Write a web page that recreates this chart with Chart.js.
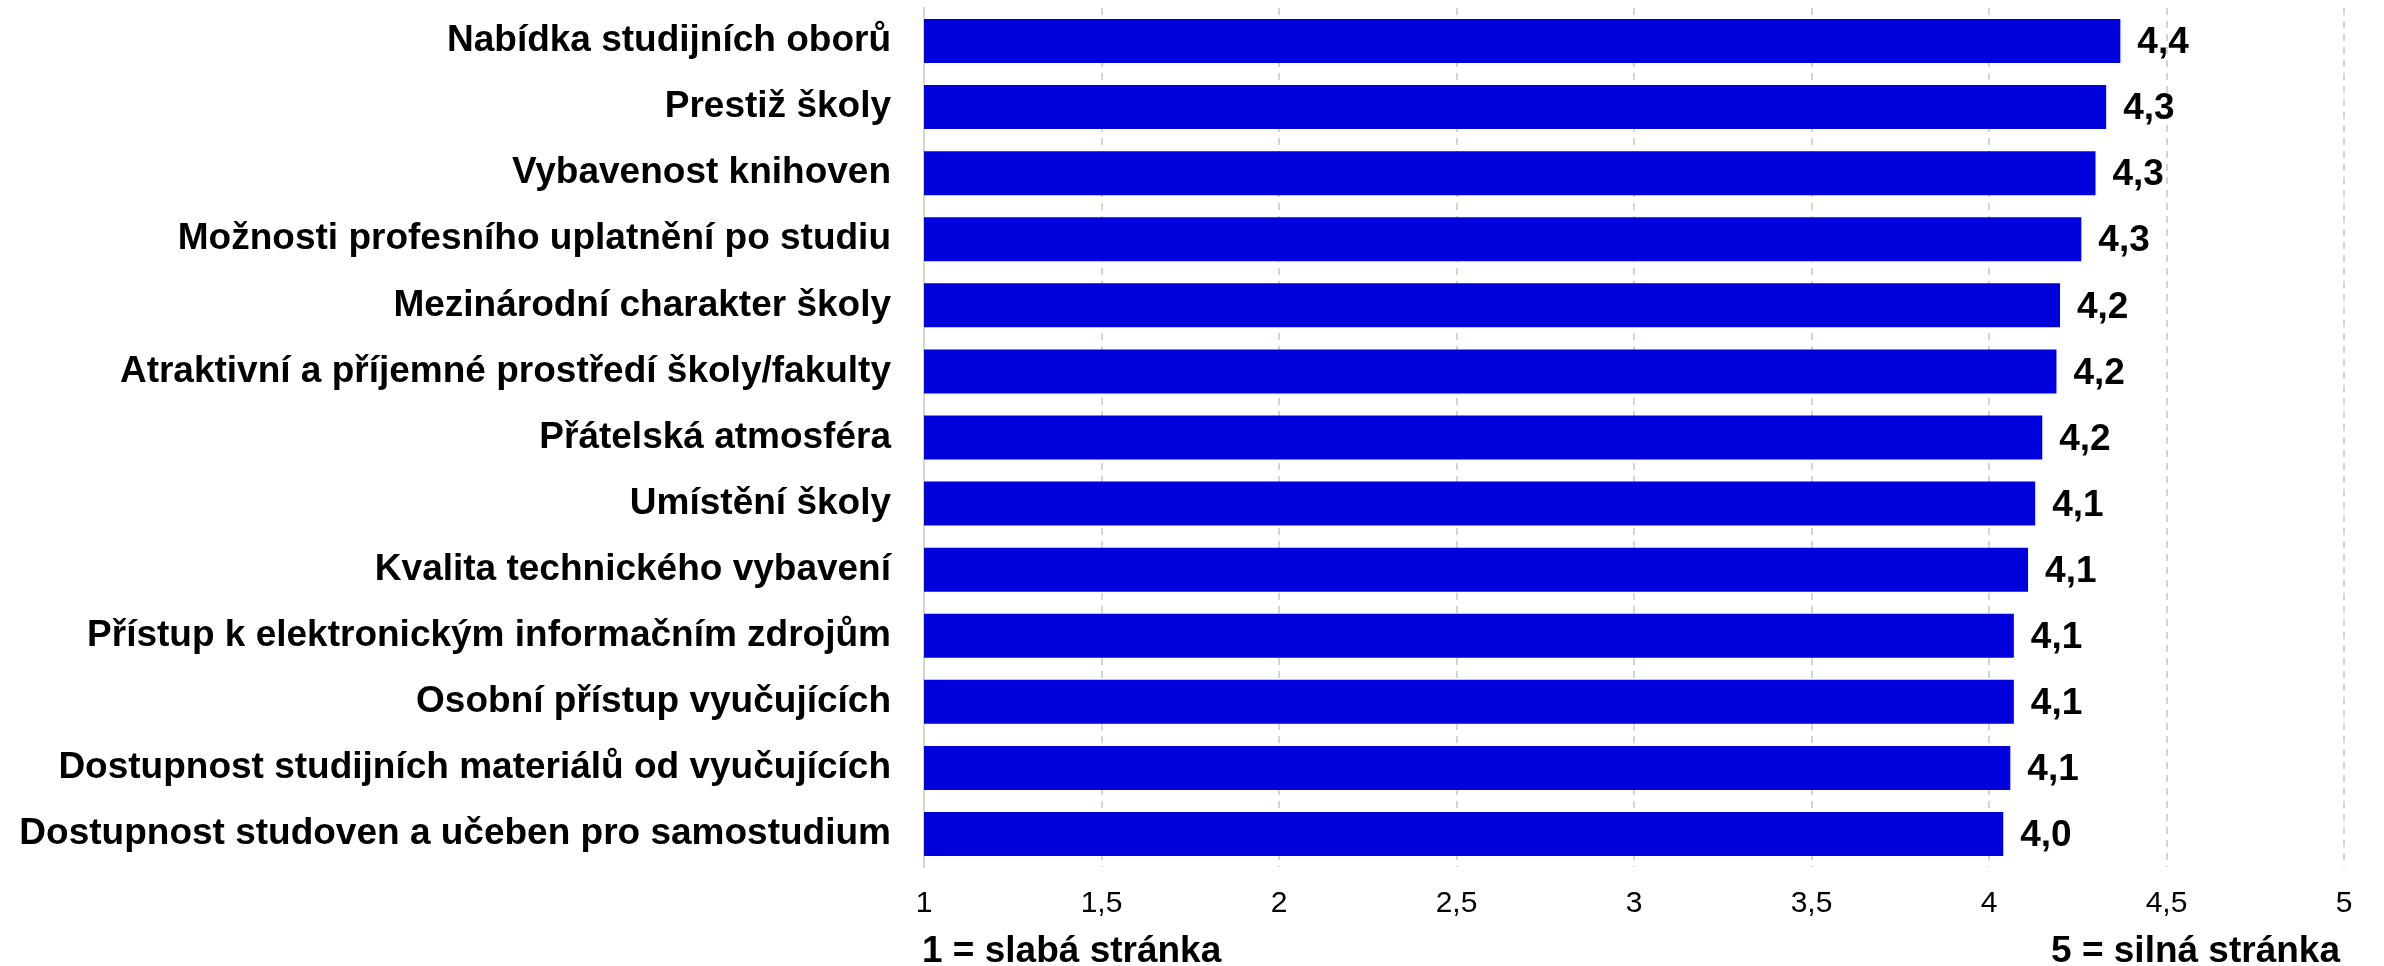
<!DOCTYPE html>
<html>
<head>
<meta charset="utf-8">
<script src="https://cdn.jsdelivr.net/npm/chart.js@4/dist/chart.umd.min.js"></script>
<style>
  html, body { margin: 0; padding: 0; background: #fff; }
  #wrap { width: 2384px; height: 966px; }
</style>
</head>
<body>
<div id="wrap"><canvas id="chart" width="2384" height="966"></canvas></div>
<script>
const categories = [
  'Nabídka studijních oborů',
  'Prestiž školy',
  'Vybavenost knihoven',
  'Možnosti profesního uplatnění po studiu',
  'Mezinárodní charakter školy',
  'Atraktivní a příjemné prostředí školy/fakulty',
  'Přátelská atmosféra',
  'Umístění školy',
  'Kvalita technického vybavení',
  'Přístup k elektronickým informačním zdrojům',
  'Osobní přístup vyučujících',
  'Dostupnost studijních materiálů od vyučujících',
  'Dostupnost studoven a učeben pro samostudium'
];
const scores = [4.37, 4.33, 4.30, 4.26, 4.20, 4.19, 4.15, 4.13, 4.11, 4.07, 4.07, 4.06, 4.04];
const scaleLow = '1 = slabá stránka';
const scaleHigh = '5 = silná stránka';

const FONT = '"Liberation Sans", Arial, Helvetica, sans-serif';
const fmt = v => v.toFixed(1).replace('.', ',');

// value labels at the end of each bar
const valueLabels = {
  id: 'valueLabels',
  afterDatasetsDraw(chart) {
    const ctx = chart.ctx;
    const meta = chart.getDatasetMeta(0);
    ctx.save();
    ctx.font = 'bold 37px ' + FONT;
    ctx.fillStyle = '#000';
    ctx.textAlign = 'left';
    ctx.textBaseline = 'middle';
    meta.data.forEach((bar, i) => {
      ctx.fillText(fmt(scores[i]), bar.x + 17, bar.y + 2);
    });
    ctx.restore();
  }
};

// "1 = ..." / "5 = ..." captions under the axis ends
const scaleCaptions = {
  id: 'scaleCaptions',
  afterDraw(chart) {
    const ctx = chart.ctx;
    const area = chart.chartArea;
    ctx.save();
    ctx.font = 'bold 37px ' + FONT;
    ctx.fillStyle = '#000';
    ctx.textBaseline = 'alphabetic';
    ctx.textAlign = 'left';
    ctx.fillText(scaleLow, area.left - 2, chart.height - 4);
    ctx.textAlign = 'right';
    ctx.fillText(scaleHigh, area.right - 4, chart.height - 4);
    ctx.restore();
  }
};

new Chart(document.getElementById('chart').getContext('2d'), {
  type: 'bar',
  data: {
    labels: categories,
    datasets: [{
      data: scores,
      backgroundColor: '#0000dc',
      borderWidth: 0,
      categoryPercentage: 1,
      barPercentage: 0.666
    }]
  },
  options: {
    indexAxis: 'y',
    responsive: false,
    animation: false,
    layout: { padding: { top: 8, right: 40, bottom: 0, left: 0 } },
    plugins: {
      legend: { display: false },
      tooltip: { enabled: false }
    },
    scales: {
      x: {
        min: 1,
        max: 5,
        ticks: {
          stepSize: 0.5,
          padding: 19,
          color: '#000',
          font: { family: FONT, size: 30 },
          callback: v => String(v).replace('.', ',')
        },
        grid: { color: '#d4d4d4', lineWidth: 2, drawTicks: false },
        border: { display: false, dash: [7, 6] },
        afterFit: s => { s.height = 99; }
      },
      y: {
        ticks: {
          padding: 33,
          color: '#000',
          font: { family: FONT, size: 37, weight: 'bold' }
        },
        grid: { display: false, drawTicks: false },
        border: { display: true, color: '#d4d4d4', width: 2 },
        afterFit: s => {
          s.width = 924;
          // label padding should not push the plot area down
          s.paddingTop = 0;
          s.paddingBottom = 0;
        }
      }
    }
  },
  plugins: [valueLabels, scaleCaptions]
});
</script>
</body>
</html>
